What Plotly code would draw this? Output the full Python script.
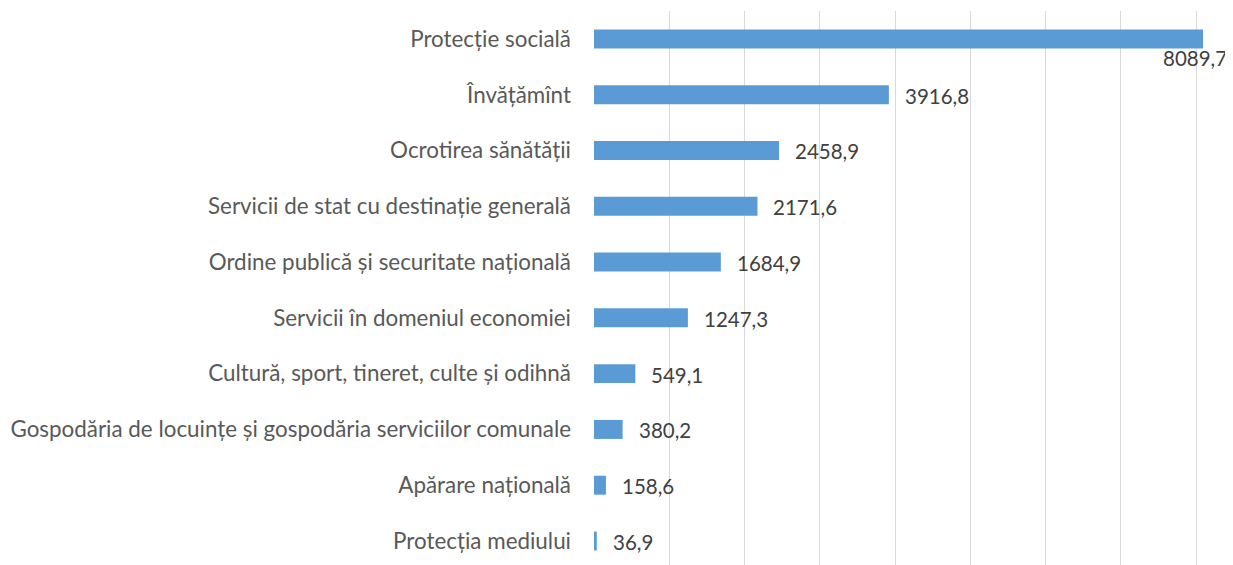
import plotly.graph_objects as go

categories = [
    "Protecție socială",
    "Învățămînt",
    "Ocrotirea sănătății",
    "Servicii de stat cu destinație generală",
    "Ordine publică și securitate națională",
    "Servicii în domeniul economiei",
    "Cultură, sport, tineret, culte și odihnă",
    "Gospodăria de locuințe și gospodăria serviciilor comunale",
    "Apărare națională",
    "Protecția mediului",
]
values = [8089.7, 3916.8, 2458.9, 2171.6, 1684.9, 1247.3, 549.1, 380.2, 158.6, 36.9]

def fmt(v):
    return f"{v:.1f}".replace(".", ",")

FONT = "Lato"
fig = go.Figure()
fig.add_trace(go.Bar(
    y=categories, x=values, orientation="h",
    marker=dict(color="#5B9BD5", line=dict(width=0)),
    width=0.34, hoverinfo="skip",
))

annotations = []
for i, (c, v) in enumerate(zip(categories, values)):
    if i == 0:
        annotations.append(dict(x=v, y=c, text=fmt(v), showarrow=False,
                                xanchor="center", yanchor="middle", yshift=-19, xshift=-8,
                                font=dict(family=FONT, size=20.5, color="#404040")))
    else:
        annotations.append(dict(x=v, y=c, text=fmt(v), showarrow=False,
                                xanchor="left", yanchor="middle", xshift=14, yshift=-1,
                                font=dict(family=FONT, size=20.5, color="#404040")))

# page body has an 8px default margin, so the figure is sized/offset to compensate
fig.update_layout(
    width=1225, height=557,
    margin=dict(l=586, r=0, t=3, b=0),
    paper_bgcolor="white", plot_bgcolor="white",
    showlegend=False,
    annotations=annotations,
    xaxis=dict(range=[0, 8488], dtick=1000, showgrid=True, gridcolor="#D9D9D9",
               gridwidth=1.3, showticklabels=False, zeroline=False, showline=False,
               fixedrange=True),
    yaxis=dict(categoryorder="array", categoryarray=categories,
               range=[9.43, -0.5], showgrid=False, zeroline=False, showline=False,
               ticks="", ticklabelstandoff=22,
               tickfont=dict(family=FONT, size=22.4, color="#595959")),
)

fig.write_html("out.html")
